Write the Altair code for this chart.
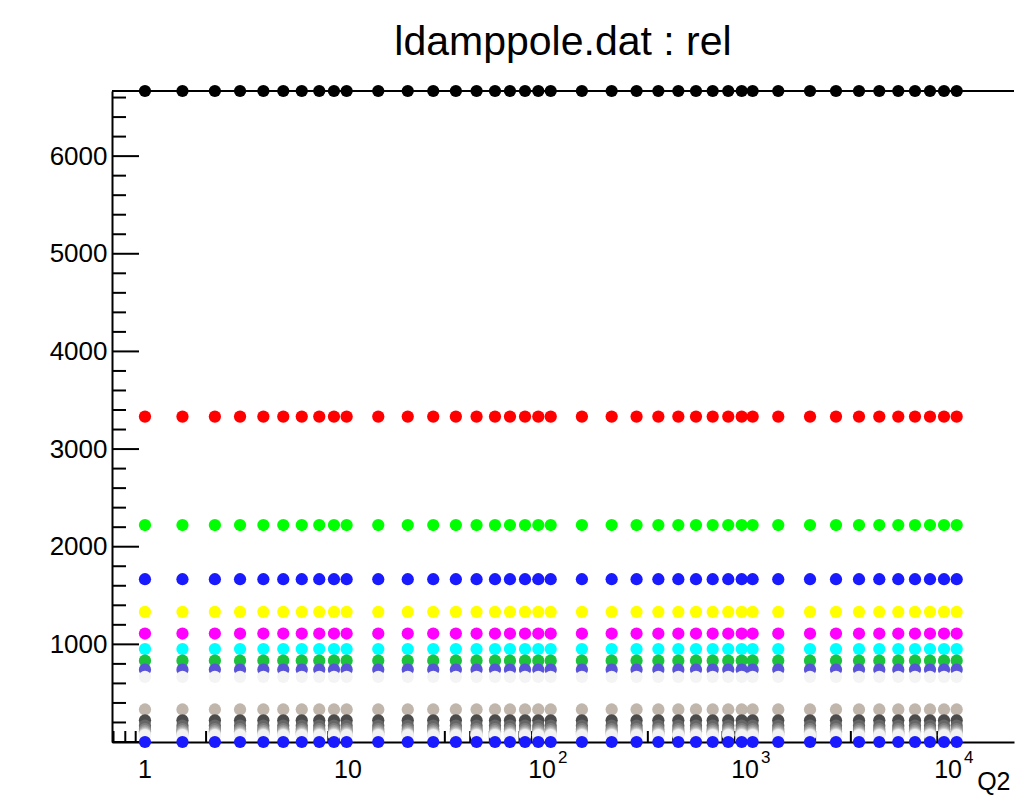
import altair as alt
import pandas as pd

# Q2 grid shared by every curve
q2 = [1.0, 1.53, 2.21, 2.94, 3.83, 4.8, 5.92, 7.22, 8.53, 9.85,
      14.1, 19.7, 26.3, 34.0, 43.0, 53.0, 62.8, 74.5, 86.6, 99.7,
      142, 199, 264, 338, 424, 518, 626, 747, 870, 985,
      1317, 1888, 2535, 3291, 4142, 5138, 6211, 7362, 8630, 9965]

# one constant "rel" level per curve, in drawing order (later ones on top)
series_names = ["c01", "c02", "c03", "c04", "c05", "c06", "c07", "c08", "c09", "c10",
                "c11", "c12", "c13", "c14", "c15", "c16", "c17", "c18", "c19", "c20"]
series_levels = [6667, 3333, 2222, 1667, 1333, 1111, 952, 833, 741, 667,
                 333, 222, 167, 133, 111, 95, 83, 74, 67, 0]
series_colors = ["#000000", "#ff0000", "#00ff00", "#1a1aff", "#ffff00", "#ff00ff",
                 "#00ffff", "#1cc23e", "#5954d8", "#f4f4f4",
                 "#c0b6ac", "#4c4c4c", "#666666", "#7f7f7f", "#999999", "#b2b2b2",
                 "#cccccc", "#e5e5e5", "#f2f2f2", "#1a1aff"]

# axis tick positions and labels
y_major = [0, 1000, 2000, 3000, 4000, 5000, 6000]
y_labels = [1000, 2000, 3000, 4000, 5000, 6000]
y_minor = [v for v in range(200, 6667, 200) if v % 1000 != 0]
x_major = [1, 10, 100, 1000, 10000]
x_minor = [0.7, 0.8, 0.9] + [m * 10 ** k for k in range(4) for m in range(2, 10)]
x_plain_labels = [1, 10]
x_plain_text = ["1", "10"]
x_pow_labels = [100, 1000, 10000]
x_pow_exp = ["2", "3", "4"]
plot_title = "ldamppole.dat : rel"

W, H = 902, 651
FONT = "Liberation Sans"

rows = []
for name, lev in zip(series_names, series_levels):
    for q in q2:
        rows.append({"series": name, "Q2": q, "rel": lev})
df = pd.DataFrame(rows)

xscale = alt.Scale(type="log", domain=[0.688, 19090], nice=False, zero=False)
yscale = alt.Scale(domain=[0, 6667], nice=False, zero=False)

# identical axis definitions in every layer so they merge cleanly
xaxis = alt.Axis(labels=False, ticks=False, tickSize=0, grid=False, domain=True,
                 domainColor="black", domainWidth=2, title="Q2",
                 titleFont=FONT, titleFontSize=25, titleFontWeight="normal",
                 titleColor="black", titleAnchor="end", titleAlign="right",
                 titleBaseline="alphabetic", titleX=W - 4, titleY=47)
yaxis = alt.Axis(values=y_labels, format="d", ticks=False, tickSize=0, grid=False,
                 domain=True, domainColor="black", domainWidth=2, title=None,
                 labelFont=FONT, labelFontSize=26, labelColor="black", labelPadding=5)

frame_top = alt.Chart(alt.Data(values=[{}])).mark_rule(color="black", strokeWidth=2).encode(
    y=alt.value(0), x=alt.value(0), x2=alt.value(W))

title_text = alt.Chart(alt.Data(values=[{"t": plot_title}])).mark_text(
    font=FONT, fontSize=41, color="black", align="center", baseline="alphabetic").encode(
    x=alt.value(W / 2), y=alt.value(-36), text="t:N")

def yticks(vals, length):
    return alt.Chart(pd.DataFrame({"v": vals})).mark_rule(color="black", strokeWidth=2).encode(
        y=alt.Y("v:Q", scale=yscale, axis=yaxis), x=alt.value(0), x2=alt.value(length))

def xticks(vals, length):
    return alt.Chart(pd.DataFrame({"v": vals})).mark_rule(color="black", strokeWidth=2).encode(
        x=alt.X("v:Q", scale=xscale, axis=xaxis), y=alt.value(H), y2=alt.value(H - length))

points = alt.Chart(df).mark_circle(size=150, opacity=1).encode(
    x=alt.X("Q2:Q", scale=xscale, axis=xaxis),
    y=alt.Y("rel:Q", scale=yscale, axis=yaxis),
    color=alt.Color("series:N", scale=alt.Scale(domain=series_names, range=series_colors),
                    legend=None),
    order=alt.Order("order:Q"),
).transform_calculate(order="indexof(%s, datum.series)" % str(series_names))

plain_lab = alt.Chart(pd.DataFrame({"v": x_plain_labels, "t": x_plain_text})).mark_text(
    font=FONT, fontSize=25, color="black", align="center", baseline="alphabetic").encode(
    x=alt.X("v:Q", scale=xscale, axis=xaxis), y=alt.value(H + 36), text="t:N")

pow_base = alt.Chart(pd.DataFrame({"v": x_pow_labels, "t": ["10"] * 3})).mark_text(
    font=FONT, fontSize=25, color="black", align="right", baseline="alphabetic", dx=5).encode(
    x=alt.X("v:Q", scale=xscale, axis=xaxis), y=alt.value(H + 36), text="t:N")

pow_exp = alt.Chart(pd.DataFrame({"v": x_pow_labels, "t": x_pow_exp})).mark_text(
    font=FONT, fontSize=17, color="black", align="left", baseline="alphabetic", dx=7).encode(
    x=alt.X("v:Q", scale=xscale, axis=xaxis), y=alt.value(H + 21), text="t:N")

chart = alt.layer(
    frame_top, title_text,
    yticks(y_minor, 14), yticks(y_major, 27),
    xticks(x_minor, 11), xticks(x_major, 22),
    points, plain_lab, pow_base, pow_exp,
).properties(
    width=W, height=H,
    autosize=alt.AutoSizeParams(type="none"),
    padding={"left": 112, "top": 91, "right": 1, "bottom": 53},
    background="white",
).configure_view(stroke=None)

chart.save("out.html", embed_options={"renderer": "svg", "actions": False})
